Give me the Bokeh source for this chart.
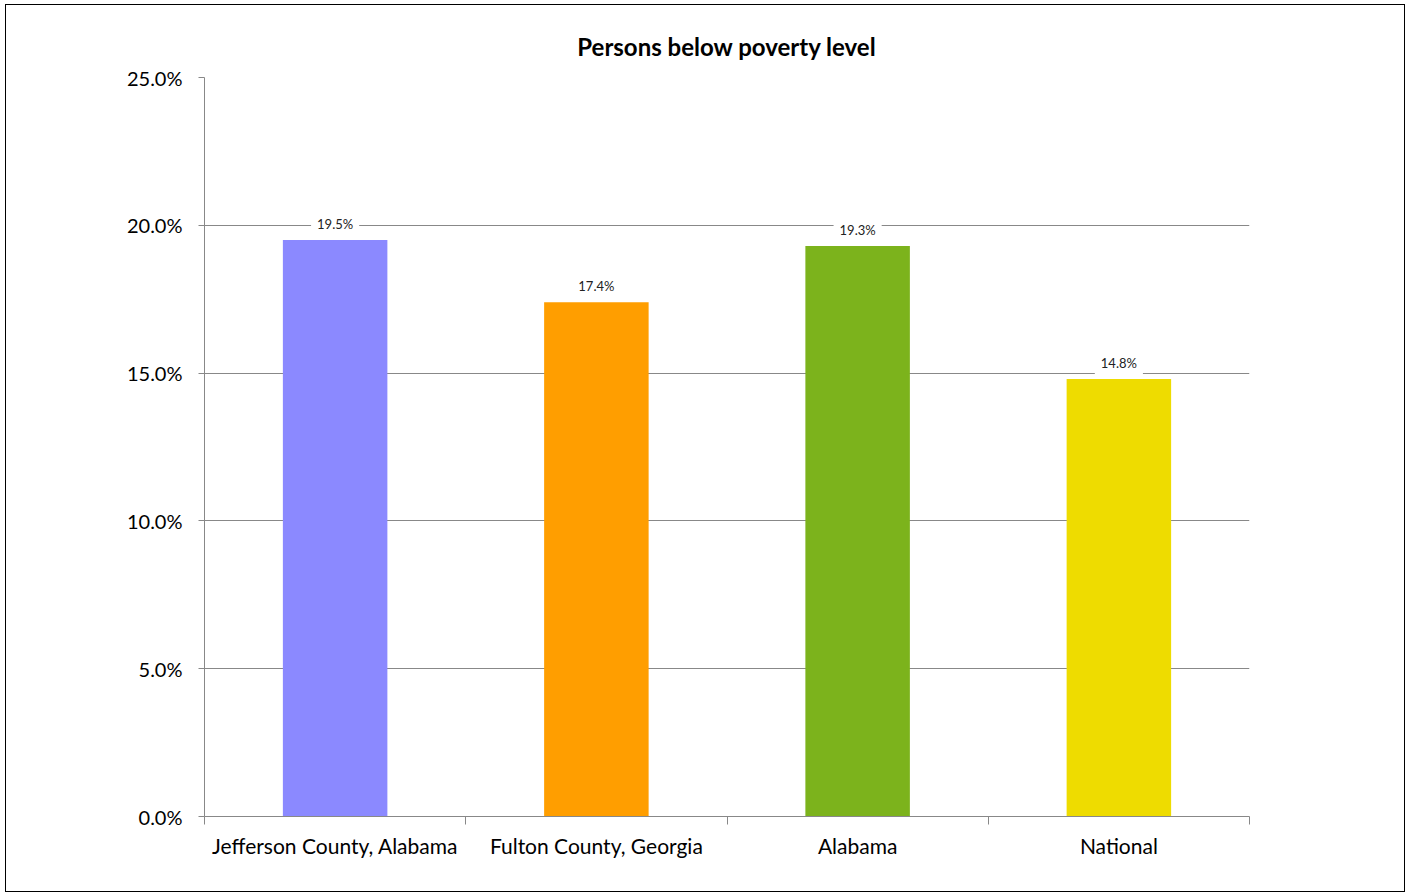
from bokeh.plotting import figure
from bokeh.models import ColumnDataSource, FixedTicker, NumeralTickFormatter, Range1d
from bokeh.core.properties import value
from bokeh.embed import file_html
from bokeh.resources import INLINE

categories = ["Jefferson County, Alabama", "Fulton County, Georgia", "Alabama", "National"]
values = [0.195, 0.174, 0.193, 0.148]
colors = ["#8B89FF", "#FF9E00", "#7CB31C", "#EEDC00"]
y_ticks = [0.0, 0.05, 0.10, 0.15, 0.20, 0.25]
title_text = "Persons below poverty level"

xs = [i + 0.5 for i in range(len(categories))]
labels = ["%.1f%%" % (v * 100) for v in values]
src = ColumnDataSource(dict(x=xs, top=values, color=colors, label=labels))

FONT = "Lato"

p = figure(width=1400, height=888, output_backend="svg", toolbar_location=None,
           x_range=Range1d(0, len(categories)), y_range=Range1d(0, 0.25),
           min_border_left=198, min_border_right=157, min_border_top=72, min_border_bottom=77,
           title=title_text)
p.margin = (4, 0, 0, 5)
p.styles = {"border": "1.5px solid #000", "box-sizing": "border-box"}
p.outline_line_color = None
p.background_fill_color = "white"
p.border_fill_color = "white"

p.title.align = "center"
p.title.text_font = FONT
p.title.text_font_style = "bold"
p.title.text_font_size = "24px"
p.title.text_color = "#000000"
p.title.standoff = 34

p.vbar(x="x", top="top", width=0.4, color="color", source=src, line_color=None)

p.text(x="x", y="top", text="label", source=src, text_align="center",
       text_baseline="middle", y_offset=-16, text_font=value(FONT),
       text_font_size="13px", text_color="#222222",
       background_fill_color="white", border_line_color=None, padding=6)

# y axis
p.yaxis.ticker = FixedTicker(ticks=y_ticks)
p.yaxis.formatter = NumeralTickFormatter(format="0.0%")
p.yaxis.major_label_text_font = FONT
p.yaxis.major_label_text_font_size = "20px"
p.yaxis.major_label_text_color = "#000000"
p.yaxis.axis_line_color = "#888888"
p.yaxis.major_tick_line_color = "#888888"
p.yaxis.major_tick_in = 0
p.yaxis.major_tick_out = 6
p.yaxis.minor_tick_line_color = None
p.yaxis.major_label_standoff = 16

# x axis
p.xaxis.ticker = FixedTicker(ticks=xs, minor_ticks=list(range(len(categories) + 1)))
p.xaxis.major_label_overrides = {x: c for x, c in zip(xs, categories)}
p.xaxis.major_label_text_font = FONT
p.xaxis.major_label_text_font_size = "21px"
p.xaxis.major_label_text_color = "#000000"
p.xaxis.axis_line_color = "#888888"
p.xaxis.major_tick_line_color = None
p.xaxis.major_tick_in = 0
p.xaxis.major_tick_out = 0
p.xaxis.minor_tick_line_color = "#888888"
p.xaxis.minor_tick_in = 0
p.xaxis.minor_tick_out = 8
p.xaxis.major_label_standoff = 8

p.xgrid.grid_line_color = None
p.ygrid.grid_line_color = "#888888"
p.ygrid.ticker = FixedTicker(ticks=y_ticks)

open("out.html", "w").write(file_html(p, INLINE))
